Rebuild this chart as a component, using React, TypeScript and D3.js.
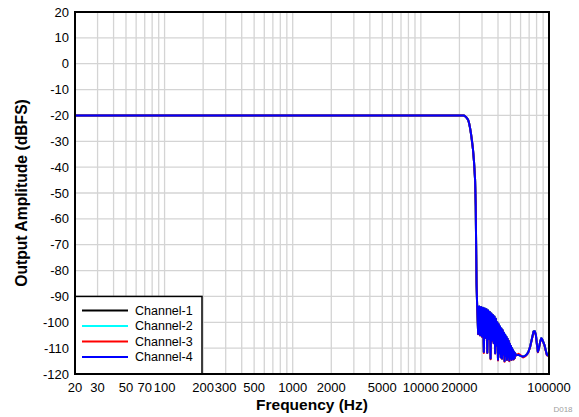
import React from 'react';
import * as d3 from 'd3';

const channelNames = ['Channel-1', 'Channel-2', 'Channel-3', 'Channel-4'];
const channelColors = ['#000000', '#00ffff', '#ff0000', '#0000ff'];

const xTickLabels = [20, 30, 50, 70, 100, 200, 300, 500, 1000, 2000, 5000, 10000, 20000, 100000];
const yTickLabels = [20, 10, 0, -10, -20, -30, -40, -50, -60, -70, -80, -90, -100, -110, -120];

// pass band + transition band (all channels overlap)
const passFreq = [20, 100, 1000, 10000, 20000, 21000, 21600, 22000, 22500, 23000, 23400, 23800, 24200, 24600, 25000, 25500, 26000, 26500, 26800, 27000, 27200];
const passDb = [-20, -20, -20, -20, -20, -20, -20.05, -20.2, -20.6, -21.2, -21.8, -23, -24.8, -27, -29.5, -33, -38, -45, -55, -70, -85];

// stop band ripple
const stopFreq = [27500, 28000, 28500, 29000, 29500, 30000, 30500, 31000, 31500, 32000, 32500, 33000, 33500, 34000, 34500, 35000, 35500, 36000, 36500, 37000, 37500, 38000, 38500, 39000, 39500, 40000, 40500, 41000, 41500, 42000, 42500, 43000, 43500, 44000, 44500, 45000, 45500, 46000, 46500, 47000, 47500, 48000, 48500, 49000, 49500, 50000, 50500, 51000, 51500, 52000, 52500, 53000, 53500, 54000, 54500, 55000];
const ch4StopDb = [-93.7, -104.5, -93.9, -105, -94.1, -105.5, -94.4, -111.5, -94.7, -106, -95, -111.8, -95.4, -106.5, -96, -114, -96.6, -107, -97.2, -108, -97.8, -112, -98.6, -109, -100, -114.5, -100.8, -112, -101.6, -113.5, -102.4, -114, -103.1, -112.5, -104, -115, -104.8, -113, -105.6, -114.5, -106.4, -113.5, -107.2, -114.8, -108.3, -113.8, -109.2, -114.5, -110, -114, -110.8, -114.3, -111.5, -113.8, -112, -112.8];
const ch3StopDb = [-93.8, -104.6, -94, -105.1, -94.2, -105.6, -94.5, -111.9, -94.8, -106.1, -95.1, -111.9, -95.5, -106.6, -96.1, -114.3, -96.7, -107.1, -97.3, -108.1, -97.9, -112.1, -98.7, -109.1, -100.1, -114.8, -100.9, -112.1, -101.7, -113.6, -102.5, -114.1, -103.2, -112.6, -104.1, -115.3, -104.9, -113.1, -105.7, -114.6, -106.5, -113.6, -107.3, -115.1, -108.4, -113.9, -109.3, -114.6, -110.1, -114.1, -110.9, -114.4, -111.6, -113.9, -112.1, -112.9];

// high-frequency tail
const tailFreq = [57800, 60000, 62900, 65000, 67200, 69000, 71300, 73500, 75700, 77500, 79000, 80500, 81900, 83500, 85300, 87000, 88000, 90000, 92200, 94500, 96300, 98000, 100000];
const ch4TailDb = [-112.6, -113, -113.3, -113, -112.4, -111.5, -109.4, -106.5, -103.6, -103.5, -104.9, -108.5, -111.4, -110, -107.5, -106.2, -106.3, -107.5, -108.8, -111, -112.6, -112.8, -112];
const ch3TailDb = [-112.2, -112.7, -113.6, -113.2, -112.5, -111.6, -109.5, -106.6, -103.7, -103.6, -105, -108.7, -111.6, -110.1, -107.6, -106.3, -106.4, -107.6, -108.9, -111.2, -112.8, -112.9, -112.1];

const FONT = '"Liberation Sans", Arial, Helvetica, sans-serif';

function buildSeries(stopDb: number[], tailDb: number[]): [number, number][] {
  const pts: [number, number][] = [];
  passFreq.forEach((f, i) => pts.push([f, passDb[i]]));
  stopFreq.forEach((f, i) => pts.push([f, stopDb[i]]));
  tailFreq.forEach((f, i) => pts.push([f, tailDb[i]]));
  return pts;
}

const seriesData = [
  buildSeries(ch4StopDb, ch4TailDb),
  buildSeries(ch4StopDb, ch4TailDb),
  buildSeries(ch3StopDb, ch3TailDb),
  buildSeries(ch4StopDb, ch4TailDb),
];

export default function App() {
  const W = 579, H = 417;
  const L = 75, R = 549, T = 12, B = 374;
  const x = d3.scaleLog().domain([20, 100000]).range([L, R]);
  const y = d3.scaleLinear().domain([-120, 20]).range([B, T]);
  const line = d3.line<[number, number]>().x(d => x(d[0])).y(d => y(d[1]));
  const gridX = x.ticks();
  const legTop = y(-90);

  return (
    <svg width={W} height={H} style={{ position: 'fixed', left: 0, top: 0, background: '#fff' }} fontFamily={FONT}>
      <defs>
        <clipPath id="plotclip">
          <rect x={L} y={T} width={R - L} height={B - T} />
        </clipPath>
      </defs>
      <rect x={0} y={0} width={W} height={H} fill="#fff" />
      {gridX.map((v, i) => (
        <line key={'gx' + i} x1={x(v)} x2={x(v)} y1={T} y2={B} stroke="#d4d4d4" strokeWidth={1.3} />
      ))}
      {yTickLabels.map((v, i) => (
        <line key={'gy' + i} x1={L} x2={R} y1={y(v)} y2={y(v)} stroke="#d4d4d4" strokeWidth={1.3} />
      ))}
      <g clipPath="url(#plotclip)">
        {seriesData.map((d, i) => (
          <path key={'s' + i} d={line(d) || ''} fill="none" stroke={channelColors[i]} strokeWidth={2} strokeLinejoin="round" />
        ))}
      </g>
      {/* legend */}
      <rect x={L} y={legTop} width={127} height={B - legTop} fill="#fff" stroke="#000" strokeWidth={1.5} />
      {channelNames.map((n, i) => {
        const ly = legTop + 14 + i * 15.5;
        return (
          <g key={'lg' + i}>
            <line x1={82} x2={128} y1={ly} y2={ly} stroke={channelColors[i]} strokeWidth={2} />
            <text x={135} y={ly + 4.5} fontSize={12.5} fill="#000">{n}</text>
          </g>
        );
      })}
      <rect x={L} y={T} width={R - L} height={B - T} fill="none" stroke="#000" strokeWidth={2} />
      {yTickLabels.map((v, i) => (
        <text key={'yt' + i} x={69} y={y(v) + 4.5} fontSize={13} textAnchor="end" fill="#000">{v}</text>
      ))}
      {xTickLabels.map((v, i) => (
        <text key={'xt' + i} x={x(v)} y={392} fontSize={13} textAnchor="middle" fill="#000">{v}</text>
      ))}
      <text x={(L + R) / 2} y={410} fontSize={15.5} fontWeight="bold" textAnchor="middle" fill="#000">Frequency (Hz)</text>
      <text transform={`translate(27, ${(T + B) / 2}) rotate(-90)`} fontSize={15.7} fontWeight="bold" textAnchor="middle" fill="#000">Output Amplitude (dBFS)</text>
      <text x={563} y={412} fontSize={8} textAnchor="middle" fill="#a0a0a0">D018</text>
    </svg>
  );
}
